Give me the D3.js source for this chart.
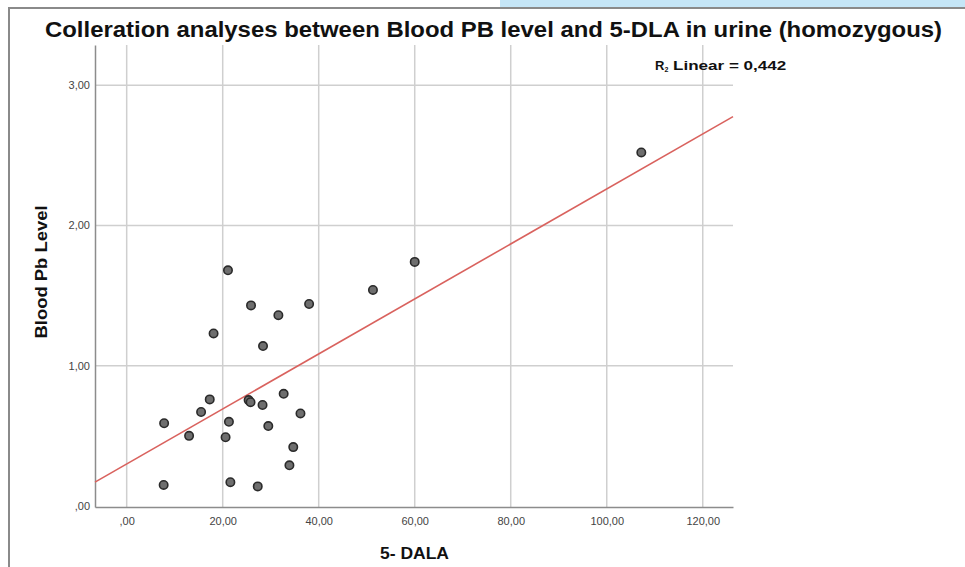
<!DOCTYPE html>
<html>
<head>
  <meta charset="utf-8">
  <title>Blood Pb vs 5-DALA</title>
  <style>
    body { margin: 0; background: #fff; }
    text { font-family: 'Liberation Sans', Arial, sans-serif; }
  </style>
</head>
<body>
<script src="https://d3js.org/d3.v7.min.js"></script>
<script>
  var width = 965;
  var height = 567;

  // values
  var dala = [21.1, 25.9, 31.6, 38.0, 18.1, 28.4, 17.3, 25.4, 25.8, 32.7, 28.3, 15.5, 36.2,
              7.8, 21.3, 13.0, 20.6, 29.5, 34.7, 33.9, 7.7, 21.6, 27.3, 51.3, 60.0, 107.2];
  var bloodPb = [1.68, 1.43, 1.36, 1.44, 1.23, 1.14, 0.76, 0.755, 0.74, 0.80, 0.72, 0.67, 0.66,
                 0.59, 0.60, 0.50, 0.49, 0.57, 0.42, 0.29, 0.15, 0.17, 0.14, 1.54, 1.74, 2.52];
  var xTicks = [0, 20, 40, 60, 80, 100, 120];
  var yTicks = [0, 1, 2, 3];
  var fitLine = [0.30, 0.0196]; // intercept, slope
  var rSquare = '0,442';

  var plot = { left: 95, right: 733, top: 45, bottom: 507 };

  var svg = d3.select('body')
    .append('svg')
      .attr('width', width)
      .attr('height', height);

  // frame of the screenshot
  svg.append('rect')
    .attr('x', 500).attr('y', 0)
    .attr('width', width - 500).attr('height', 7)
    .attr('fill', '#c5e6f7');
  svg.append('path')
    .attr('d', 'M9,' + height + 'V8H' + width)
    .attr('fill', 'none')
    .attr('stroke', '#8a8a8a')
    .attr('stroke-width', 2);

  var x = d3.scaleLinear()
    .domain([-6.6, 126.3])
    .range([plot.left, plot.right]);

  var y = d3.scaleLinear()
    .domain([-0.007, 3.286])
    .range([plot.bottom, plot.top]);

  var fmt = function(d) {
    var s = d.toFixed(2).replace('.', ',');
    return s.indexOf('0,') === 0 ? s.slice(1) : s;
  };

  // grid
  svg.append('g')
    .selectAll('line')
    .data(xTicks)
    .enter()
    .append('line')
      .attr('x1', function(d) { return x(d); })
      .attr('x2', function(d) { return x(d); })
      .attr('y1', plot.top)
      .attr('y2', plot.bottom)
      .attr('stroke', '#cfcfcf')
      .attr('stroke-width', 1.5);

  svg.append('g')
    .selectAll('line')
    .data(yTicks.filter(function(d) { return d > 0; }))
    .enter()
    .append('line')
      .attr('x1', plot.left)
      .attr('x2', plot.right)
      .attr('y1', function(d) { return y(d); })
      .attr('y2', function(d) { return y(d); })
      .attr('stroke', '#cfcfcf')
      .attr('stroke-width', 1.5);

  // axes
  var xAxis = svg.append('g')
    .attr('transform', 'translate(0,' + plot.bottom + ')')
    .call(d3.axisBottom(x).tickValues(xTicks).tickFormat(fmt).tickSize(0).tickPadding(10));

  var yAxis = svg.append('g')
    .attr('transform', 'translate(' + plot.left + ',0)')
    .call(d3.axisLeft(y).tickValues(yTicks).tickFormat(fmt).tickSize(0).tickPadding(5));

  [xAxis, yAxis].forEach(function(ax) {
    ax.select('.domain').attr('stroke', '#8c8c8c').attr('stroke-width', 1.5);
    ax.selectAll('text')
      .attr('fill', '#444')
      .style('font-size', '11px')
      .style('font-family', "'Liberation Sans', Arial, sans-serif");
  });

  // fit line
  var x0 = x.domain()[0], x1 = x.domain()[1];
  svg.append('line')
    .attr('x1', x(x0))
    .attr('y1', y(fitLine[0] + fitLine[1] * x0))
    .attr('x2', x(x1))
    .attr('y2', y(fitLine[0] + fitLine[1] * x1))
    .attr('stroke', '#d9625e')
    .attr('stroke-width', 1.6);

  // points
  svg.append('g')
    .selectAll('circle')
    .data(dala)
    .enter()
    .append('circle')
      .attr('cx', function(d) { return x(d); })
      .attr('cy', function(d, i) { return y(bloodPb[i]); })
      .attr('r', 4.2)
      .attr('fill', '#6e6e6e')
      .attr('stroke', '#2a2a2a')
      .attr('stroke-width', 1.6);

  // texts
  svg.append('text')
    .attr('x', 45)
    .attr('y', 37)
    .attr('textLength', 897)
    .attr('lengthAdjust', 'spacingAndGlyphs')
    .style('font-size', '22px')
    .style('font-weight', 'bold')
    .attr('fill', '#111')
    .text('Colleration analyses between Blood PB level and 5-DLA in urine (homozygous)');

  var r2 = svg.append('text')
    .attr('x', 655)
    .attr('y', 70)
    .style('font-size', '13px')
    .style('font-weight', 'bold')
    .attr('fill', '#111');
  r2.append('tspan').text('R');
  r2.append('tspan').attr('dy', 2).style('font-size', '7px').text('2');
  r2.append('tspan').attr('dy', -2).attr('textLength', 118).attr('lengthAdjust', 'spacingAndGlyphs')
    .text(' Linear = ' + rSquare);

  svg.append('text')
    .attr('transform', 'translate(47,272) rotate(-90)')
    .attr('text-anchor', 'middle')
    .attr('textLength', 133)
    .attr('lengthAdjust', 'spacingAndGlyphs')
    .style('font-size', '16px')
    .style('font-weight', 'bold')
    .attr('fill', '#111')
    .text('Blood Pb Level');

  svg.append('text')
    .attr('x', 380)
    .attr('y', 559)
    .attr('textLength', 69)
    .attr('lengthAdjust', 'spacingAndGlyphs')
    .style('font-size', '16px')
    .style('font-weight', 'bold')
    .attr('fill', '#111')
    .text('5- DALA');
</script>
</body>
</html>
